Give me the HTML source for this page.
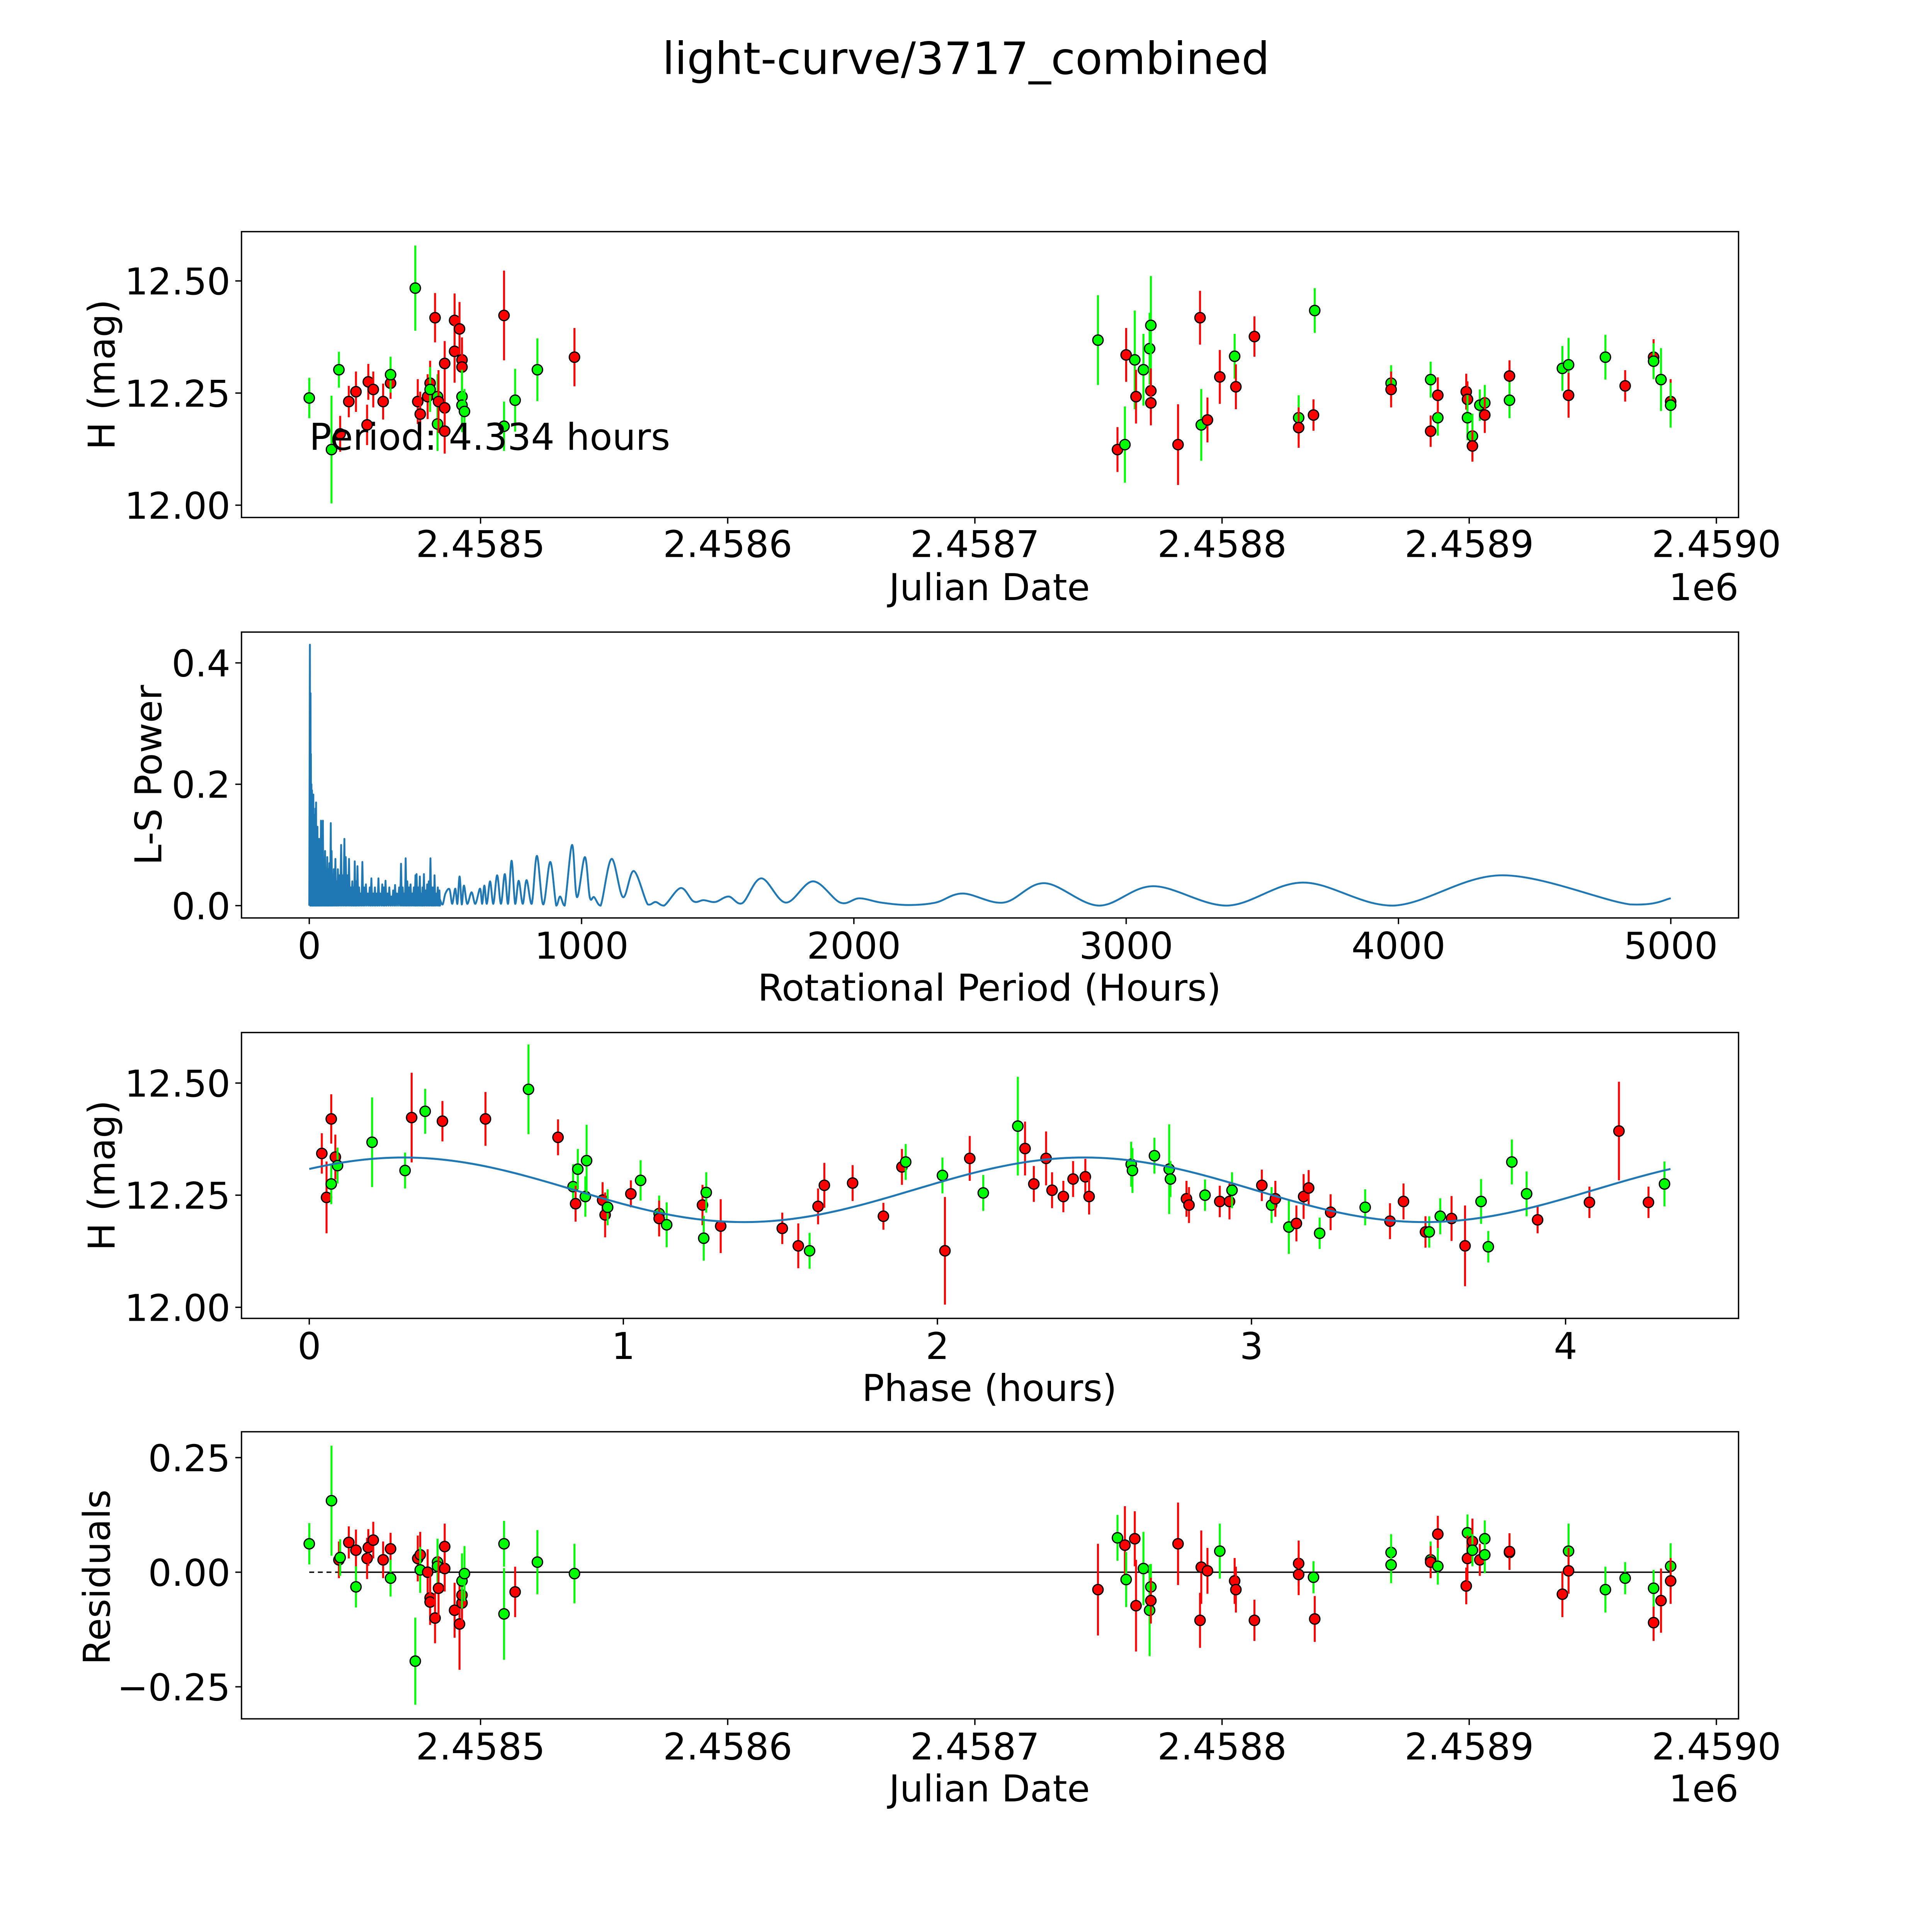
<!DOCTYPE html>
<html><head><meta charset="utf-8"><title>light-curve/3717_combined</title>
<style>html,body{margin:0;padding:0;background:#fff;overflow:hidden;width:100%;height:100%}svg{display:block;width:100vw;height:100vh}text{font-family:"DejaVu Sans","Liberation Sans",sans-serif;fill:#000}</style>
</head><body>
<svg id="fig" xmlns="http://www.w3.org/2000/svg" width="5400" height="5400" viewBox="0 0 1568 1568" preserveAspectRatio="none">
<rect x="0" y="0" width="1568" height="1568" fill="#fff"/>
<text x="784" y="60" font-size="36" text-anchor="middle">light-curve/3717_combined</text>
<g id="p1"></g>
<g id="p2"></g>
<g id="p3"></g>
<g id="p4"></g>
</svg>
<script>
// ---- Panel 1: light curve (t = JD - 2458000) ----
const t1 = [430.7,439.7,442.7,443.2,446.7,449.6,454.1,454.6,456.6,460.6,463.6,463.6,473.6,474.6,475.6,478.6,479.6,479.6,481.6,482.6,482.6,483,485.5,485.5,485.5,489.5,489.5,491.5,492.5,492.5,492.5,492.5,493.5,509.5,509.5,514,523,538,
749.8,757.7,760.7,761.2,764.7,765.2,768.2,770.7,771.2,771.2,771.2,782.2,791.1,791.6,794.1,799.1,805.1,805.6,813.1,831,831,837,837.5,868.4,868.4,884.4,884.4,887.3,887.3,898.8,899.3,899.3,901.3,901.3,904.3,906.3,906.3,916.3,916.3,937.7,940.2,940.2,955.1,963.1,974.6,974.6,977.6,981.5,981.5];
const m1 = [12.239,12.124,12.302,12.159,12.231,12.253,12.179,12.275,12.258,12.231,12.272,12.291,12.484,12.231,12.203,12.242,12.272,12.258,12.418,12.242,12.181,12.231,12.217,12.165,12.316,12.412,12.343,12.393,12.324,12.308,12.242,12.223,12.209,12.423,12.176,12.234,12.302,12.33,
12.368,12.124,12.135,12.335,12.324,12.242,12.302,12.349,12.401,12.255,12.228,12.135,12.418,12.179,12.19,12.286,12.332,12.264,12.376,12.195,12.173,12.201,12.434,12.272,12.258,12.28,12.165,12.195,12.245,12.253,12.236,12.195,12.154,12.132,12.223,12.228,12.201,12.288,12.234,12.305,12.313,12.245,12.33,12.266,12.33,12.321,12.28,12.231,12.223];
const c1 = "gggrrrrrrrrggrrrrgrgg rrrrrrrrrgggrgggr gr grgrgggrrrrgrrgrrg rrggrgrgrrrggrggrrgg grgrrggrg".replace(/ /g,"");
const e1 = [0.045,0.12,0.04,0.04,0.035,0.045,0.045,0.04,0.04,0.04,0.035,0.04,0.095,0.05,0.05,0.05,0.05,0.05,0.055,0.05,0.06,0.07,0.05,0.05,0.05,0.06,0.07,0.06,0.05,0.05,0.06,0.06,0.05,0.1,0.055,0.07,0.07,0.065,
0.1,0.05,0.085,0.06,0.11,0.06,0.08,0.08,0.11,0.05,0.05,0.09,0.06,0.08,0.05,0.06,0.05,0.05,0.045,0.05,0.045,0.035,0.05,0.04,0.04,0.04,0.035,0.04,0.04,0.04,0.04,0.05,0.05,0.035,0.035,0.04,0.04,0.035,0.04,0.05,0.06,0.05,0.05,0.035,0.04,0.04,0.07,0.05,0.05];
const jdTicks = [500,600,700,800,900,1000];
const jdTickLabels = ["2.4585","2.4586","2.4587","2.4588","2.4589","2.4590"];
const magTicks = [12.0,12.25,12.5];
const magTickLabels = ["12.00","12.25","12.50"];

// ---- Panel 2: periodogram ----
const denseP = [2.3,4.7,6,8,10,12.5,15,17,20,22.5,25,27.5,30,33,36,39,43,46,50,54,58,62,66,70,74,79,82,86,90,96,100,105,110,117,122,129,134,140,146,152,158,163,167,172,177,183,189,195,201,208,215,222,228,235,241,248,254,261,268,274,280,287,294,301,308,315,322,330,337,343,349,354,360,366,372,378,384,390,394,400,406,412,416,421,427,433,439,445,451,456,460,466,472,478];
const denseV = [0.43,0.35,0.25,0.2,0.19,0.17,0.183,0.15,0.12,0.16,0.17,0.11,0.13,0.09,0.11,0.08,0.14,0.07,0.14,0.06,0.09,0.05,0.08,0.06,0.07,0.136,0.09,0.05,0.06,0.077,0.04,0.06,0.05,0.1,0.05,0.11,0.08,0.05,0.077,0.03,0.04,0.03,0.073,0.04,0.065,0.03,0.02,0.072,0.03,0.035,0.02,0.03,0.045,0.02,0.03,0.02,0.045,0.02,0.035,0.03,0.041,0.02,0.03,0.015,0.025,0.034,0.02,0.03,0.069,0.03,0.02,0.078,0.04,0.03,0.035,0.02,0.03,0.05,0.052,0.03,0.048,0.02,0.03,0.052,0.025,0.035,0.04,0.078,0.03,0.03,0.05,0.02,0.03,0.025];
const smoothP = [480,490,500,515,525,536,544,552,560,568,580,596,610,627,635,643,652,664,676,690,704,718,730,743,756,769,784,798,817,836,859,885,907,921,938,965,983,1012,1030,1046,1070,1110,1152,1192,1243,1272,1303,1364,1411,1448,1491,1540,1590,1660,1750,1850,1950,2020,2100,2200,2300,2400,2550,2700,2900,3100,3370,3650,3980,4380,4850,5000];
const smoothV = [0.01,0.002,0.02,0.027,0.003,0.028,0.003,0.048,0.002,0.033,0.003,0.022,0.003,0.028,0.003,0.033,0.003,0.04,0.003,0.05,0.003,0.052,0.003,0.074,0.003,0.041,0.003,0.042,0.003,0.082,0.002,0.072,0.0,0.015,0.0,0.1,0.014,0.08,0.014,0.014,0.0,0.077,0.014,0.057,0.002,0.006,0.0,0.029,0.007,0.009,0.006,0.015,0.004,0.045,0.005,0.04,0.005,0.012,0.005,0.001,0.005,0.02,0.005,0.037,0.0,0.032,0.0,0.038,0.0,0.05,0.002,0.012];
const perTicks = [0,1000,2000,3000,4000,5000];
const perTickLabels = ["0","1000","2000","3000","4000","5000"];
const powTicks = [0,0.2,0.4];
const powTickLabels = ["0.0","0.2","0.4"];

// ---- Panel 3: phased ----
const ph3 = [0.04,0.055,0.07,0.07,0.083,0.09,0.2,0.305,0.326,0.369,0.424,0.561,0.698,0.792,0.84,0.848,0.855,0.879,0.883,0.934,0.942,0.95,1.024,1.055,1.114,1.114,1.138,1.252,1.256,1.264,1.31,1.506,1.557,1.593,1.62,1.64,1.73,1.828,1.887,1.899,2.016,2.024,2.103,2.146,2.256,2.279,2.307,2.346,2.365,2.401,2.432,2.471,2.483,2.617,2.621,2.691,2.738,2.742,2.793,2.801,2.852,2.899,2.93,2.938,3.033,3.064,3.076,3.119,3.143,3.166,3.182,3.217,3.252,3.362,3.441,3.484,3.554,3.566,3.601,3.637,3.68,3.731,3.754,3.829,3.876,3.911,4.076,4.17,4.264,4.315];
const m3 = [12.343,12.245,12.42,12.275,12.335,12.316,12.368,12.305,12.423,12.437,12.415,12.42,12.486,12.379,12.269,12.231,12.308,12.247,12.327,12.239,12.206,12.223,12.253,12.283,12.209,12.198,12.184,12.228,12.154,12.256,12.181,12.176,12.137,12.126,12.225,12.272,12.277,12.203,12.313,12.324,12.294,12.126,12.332,12.255,12.404,12.354,12.275,12.332,12.261,12.247,12.286,12.291,12.247,12.319,12.305,12.338,12.308,12.286,12.242,12.228,12.25,12.236,12.236,12.261,12.272,12.228,12.242,12.179,12.187,12.247,12.266,12.165,12.212,12.223,12.192,12.236,12.168,12.168,12.203,12.198,12.137,12.236,12.135,12.324,12.253,12.195,12.234,12.393,12.234,12.275];
const c3 = "rrrgrggg rgrr grgrggg rrgrggrgrgg rrrgrrrrrggrrggrrrrrrrrgggggrrgrrgrgrgrrrgrgrrrggrrggggrrrr".replace(/ /g,"");
const e3 = [0.045,0.08,0.055,0.045,0.05,0.04,0.1,0.04,0.1,0.05,0.045,0.06,0.1,0.04,0.05,0.04,0.045,0.045,0.08,0.04,0.05,0.04,0.03,0.045,0.04,0.04,0.05,0.045,0.05,0.045,0.06,0.035,0.05,0.04,0.04,0.05,0.04,0.03,0.04,0.04,0.04,0.12,0.05,0.04,0.11,0.06,0.04,0.06,0.04,0.035,0.04,0.04,0.04,0.05,0.05,0.04,0.1,0.04,0.04,0.04,0.035,0.035,0.04,0.04,0.035,0.04,0.04,0.06,0.04,0.05,0.04,0.035,0.04,0.04,0.04,0.04,0.035,0.035,0.04,0.05,0.09,0.05,0.035,0.05,0.05,0.03,0.035,0.11,0.035,0.05];
const fitMean = 12.262, fitAmp = 0.072, fitPeakPhase = 0.3, fitPeriod = 4.334;
const phTicks = [0,1,2,3,4];
const phTickLabels = ["0","1","2","3","4"];

// ---- Panel 4: residuals ----
const t4 = [430.7,439.7,442.7,443.2,446.7,449.6,449.6,454.1,454.6,456.6,460.6,463.6,463.6,473.6,474.6,475.6,475.6,478.6,479.6,479.6,481.6,482.6,482.6,483,485.5,485.5,489.5,491.5,492.5,492.5,492.5,493.5,509.5,509.5,514,523,538,
749.8,757.7,760.7,761.2,764.7,765.2,768.2,770.7,771.2,771.2,782.2,791.1,791.6,794.1,799.1,805.1,805.6,813.1,831,831,837,837.5,868.4,868.4,884.4,884.4,887.3,887.3,898.8,899.3,899.3,901.3,901.3,904.3,906.3,906.3,916.3,916.3,937.7,940.2,940.2,955.1,963.1,974.6,974.6,977.6,981.5,981.5];
const r4 = [0.062,0.156,0.027,0.032,0.065,0.048,-0.032,0.03,0.054,0.07,0.027,0.051,-0.013,-0.194,0.03,0.038,0.005,0,-0.056,-0.065,-0.1,0.022,0.013,-0.035,0.008,0.056,-0.083,-0.113,-0.067,-0.05,-0.019,-0.003,0.062,-0.091,-0.043,0.022,-0.003,
-0.038,0.075,0.059,-0.016,0.073,-0.073,0.008,-0.083,-0.032,-0.062,0.062,-0.105,0.011,0.003,0.046,-0.019,-0.038,-0.105,0.019,-0.005,-0.011,-0.102,0.043,0.016,0.027,0.022,0.083,0.013,-0.03,0.086,0.03,0.067,0.048,0.027,0.073,0.038,0.043,0.045,-0.048,0.046,0.003,-0.038,-0.013,-0.11,-0.035,-0.062,0.013,-0.019];
const c4 = "ggrgrrgrrrrrggrrgrrrrggrrrrrrrggggrggr grgrrgggrrrrrgrrrrrgrgggrrgrgrrgrgggrrgrggrgrgrg".replace(/ /g,"");
const e4 = [0.045,0.12,0.04,0.04,0.035,0.045,0.045,0.045,0.04,0.04,0.04,0.035,0.04,0.095,0.05,0.05,0.05,0.05,0.05,0.05,0.055,0.05,0.06,0.07,0.05,0.05,0.06,0.1,0.05,0.05,0.06,0.06,0.05,0.1,0.055,0.07,0.065,
0.1,0.05,0.085,0.06,0.06,0.1,0.08,0.1,0.05,0.05,0.09,0.06,0.08,0.05,0.06,0.05,0.05,0.045,0.05,0.045,0.035,0.05,0.04,0.04,0.04,0.035,0.04,0.04,0.04,0.04,0.05,0.05,0.035,0.035,0.04,0.04,0.035,0.04,0.05,0.06,0.05,0.05,0.035,0.04,0.04,0.07,0.05,0.05];
const resTicks = [-0.25,0,0.25];
const resTickLabels = ["\u22120.25","0.00","0.25"];

// ---- scales ----
const NS = "http://www.w3.org/2000/svg";
const FS = 30;
function el(tag, parent, attrs){ const e=document.createElementNS(NS,tag); for(const k in attrs) e.setAttribute(k,attrs[k]); parent.appendChild(e); return e; }
const xJD = t => 390 + (t-500)*2.006;
const xPer = h => 251 + h*0.2210;
const xPh = p => 251 + p*254.9;
const yMag1 = m => 410 - (m-12)*364;
const yPow = v => 735 - v*492.5;
const yMag3 = m => 1061 - (m-12)*364;
const yRes = v => 1276 - v*372;
const colorOf = c => c==='r' ? '#ff0000' : '#00ff00';

function frame(g, L,T,R,B){
  const f = el('rect', g, {x:L,y:T,width:R-L,height:B-T,fill:'none',stroke:'#000','stroke-width':1.1});
  
  
}
function xTicks(g, vals, labels, sx, B, ly){
  vals.forEach((v,i)=>{
    const x=sx(v);
    const tk=el('line',g,{x1:x,x2:x,y1:B,y2:B+5,stroke:'#000','stroke-width':1.1});
    
    
    const tx=el('text',g,{x:x,y:ly,'font-size':FS,'text-anchor':'middle'});
    
    
    tx.textContent=labels[i];
  });
}
function yTicks(g, vals, labels, sy, L){
  vals.forEach((v,i)=>{
    const y=sy(v);
    const tk=el('line',g,{x1:L-5,x2:L,y1:y,y2:y,stroke:'#000','stroke-width':1.1});
    
    
    const tx=el('text',g,{x:L-9,y:y+11,'font-size':FS,'text-anchor':'end'});
    
    
    tx.textContent=labels[i];
  });
}
function label(g, txt, x, y, rot, name, anchor){
  const t=el('text',g,{x:x,y:y,'font-size':FS,'text-anchor':anchor||'middle'});
  if(rot) t.setAttribute('transform','rotate(-90 '+x+' '+y+')');
  
  
  t.textContent=txt;
}
function points(g, xs, ys, es, cs, sx, sy, escale){
  xs.forEach((xv,i)=>{
    const x=sx(xv), y=sy(ys[i]), col=colorOf(cs[i]);
    const eb=el('line',g,{x1:x,x2:x,y1:y-es[i]*escale,y2:y+es[i]*escale,stroke:col,'stroke-width':1.6});
    
    
    const c=el('circle',g,{cx:x,cy:y,r:4.2,fill:col,stroke:'#000','stroke-width':1});
    
    
  });
}

// Panel 1
const p1=document.getElementById('p1');
points(p1,t1,m1,e1,c1,xJD,yMag1,364);
frame(p1,196,188,1411,420);
xTicks(p1,jdTicks,jdTickLabels,xJD,420,452);
yTicks(p1,magTicks,magTickLabels,yMag1,196);
label(p1,'Julian Date',803,487,false,'x-axis-title');
label(p1,'1e6',1411,487,false,'x-axis-offset','end');
label(p1,'H (mag)',93,304,true,'y-axis-title');
label(p1,'Period: 4.334 hours',251,365,false,'period-annotation','start');

// Panel 2
const p2=document.getElementById('p2');
let d='M'+xPer(0)+','+yPow(0);
denseP.forEach((p,i)=>{
  const next = i<denseP.length-1 ? (p+denseP[i+1])/2 : p+2;
  d+=' L'+xPer(p).toFixed(2)+','+yPow(denseV[i]).toFixed(2)+' L'+xPer(next).toFixed(2)+','+yPow(0).toFixed(2);
});
const sp=smoothP.map((p,i)=>[xPer(p),yPow(smoothV[i])]);
d+=' L'+sp[0][0].toFixed(2)+','+sp[0][1].toFixed(2);
for(let i=0;i<sp.length-1;i++){
  const p0=sp[Math.max(0,i-1)],p1_=sp[i],p2_=sp[i+1],p3=sp[Math.min(sp.length-1,i+2)];
  const c1x=p1_[0]+(p2_[0]-p0[0])/6, c1y=p1_[1]+(p2_[1]-p0[1])/6;
  const c2x=p2_[0]-(p3[0]-p1_[0])/6, c2y=p2_[1]-(p3[1]-p1_[1])/6;
  d+=' C'+c1x.toFixed(2)+','+Math.min(735,c1y).toFixed(2)+' '+c2x.toFixed(2)+','+Math.min(735,c2y).toFixed(2)+' '+p2_[0].toFixed(2)+','+p2_[1].toFixed(2);
}
const pl=el('path',p2,{d:d,fill:'none',stroke:'#1f77b4','stroke-width':1.5,'stroke-linejoin':'round'});


frame(p2,196,513,1411,745);
xTicks(p2,perTicks,perTickLabels,xPer,745,778);
yTicks(p2,powTicks,powTickLabels,yPow,196);
label(p2,'Rotational Period (Hours)',803,812,false,'x-axis-title');
label(p2,'L-S Power',131,629,true,'y-axis-title');

// Panel 3
const p3=document.getElementById('p3');
points(p3,ph3,m3,e3,c3,xPh,yMag3,364);
let fd='';
for(let k=0;k<=200;k++){
  const p=fitPeriod*k/200;
  const m=fitMean+fitAmp*Math.cos(4*Math.PI*(p-fitPeakPhase)/fitPeriod);
  fd+=(k?' L':'M')+xPh(p).toFixed(2)+','+yMag3(m).toFixed(2);
}
const fl=el('path',p3,{d:fd,fill:'none',stroke:'#1f77b4','stroke-width':1.6});


frame(p3,196,838,1411,1070);
xTicks(p3,phTicks,phTickLabels,xPh,1070,1103);
yTicks(p3,magTicks,magTickLabels,yMag3,196);
label(p3,'Phase (hours)',803,1137,false,'x-axis-title');
label(p3,'H (mag)',93,954,true,'y-axis-title');

// Panel 4
const p4=document.getElementById('p4');
const zd=el('line',p4,{x1:xJD(t1[0]),x2:xJD(443),y1:yRes(0),y2:yRes(0),stroke:'#000','stroke-width':1.1,'stroke-dasharray':'4,3'});


const zs=el('line',p4,{x1:xJD(443),x2:xJD(981.5),y1:yRes(0),y2:yRes(0),stroke:'#000','stroke-width':1.1});


points(p4,t4,r4,e4,c4,xJD,yRes,372);
frame(p4,196,1162,1411,1395);
xTicks(p4,jdTicks,jdTickLabels,xJD,1395,1428);
yTicks(p4,resTicks,resTickLabels,yRes,196);
label(p4,'Julian Date',803,1462,false,'x-axis-title');
label(p4,'1e6',1411,1462,false,'x-axis-offset','end');
label(p4,'Residuals',89,1280,true,'y-axis-title');
</script>
</body></html>
